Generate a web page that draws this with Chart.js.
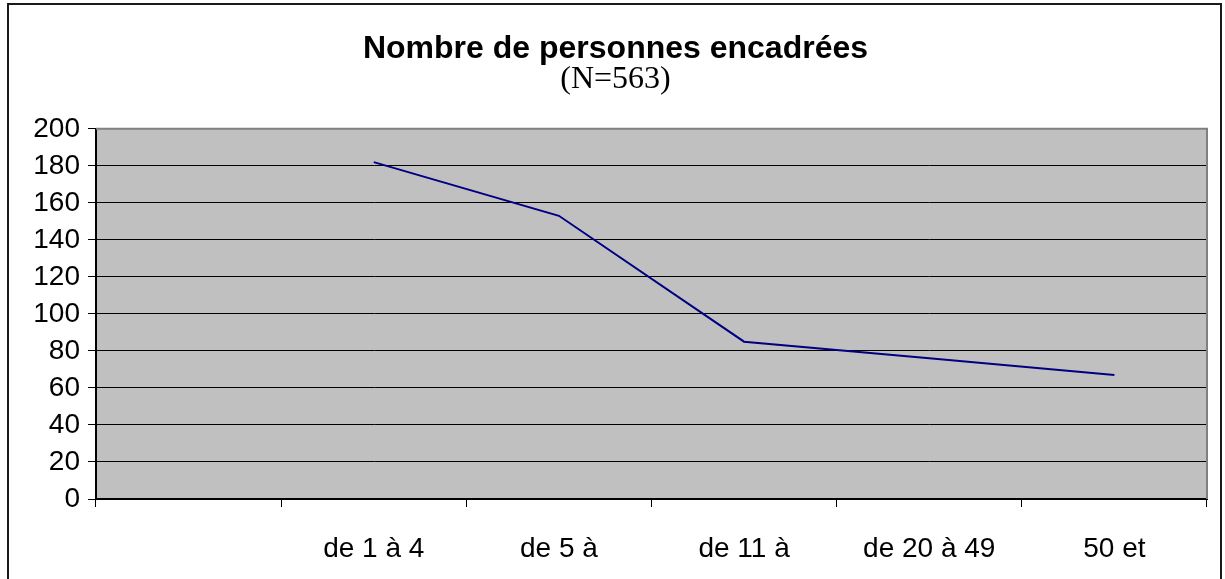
<!DOCTYPE html>
<html>
<head>
<meta charset="utf-8">
<title>Nombre de personnes encadrées</title>
<script src="https://cdn.jsdelivr.net/npm/chart.js@4/dist/chart.umd.min.js"></script>
<style>
	html, body { margin: 0; padding: 0; background: #fff; }
	#wrap { width: 1225px; height: 579px; }
</style>
</head>
<body>
<div id="wrap"><canvas id="encadres-chart" width="1225" height="579"></canvas></div>
<script>
// tranches d'effectif encadré (la première catégorie est vide)
const categories = ['', 'de 1 à 4', 'de 5 à', 'de 11 à', 'de 20 à 49', '50 et']
const personnes = [null, 182, 153, 85, 76, 67]
const yTicks = [0, 20, 40, 60, 80, 100, 120, 140, 160, 180, 200]

const sans = "'Liberation Sans', Arial, sans-serif"
const serif = "'Liberation Serif', 'Times New Roman', serif"

// fond gris de la zone de tracé + cadre extérieur
const plotFrame = {
	id: 'plotFrame',
	beforeDraw(chart) {
		const { ctx, chartArea: a } = chart
		ctx.save()
		ctx.fillStyle = '#c0c0c0'
		ctx.fillRect(a.left, a.top, a.right - a.left, a.bottom - a.top)
		ctx.restore()
	},
	afterDraw(chart) {
		const { ctx, chartArea: a } = chart
		ctx.save()
		ctx.strokeStyle = '#808080'
		ctx.lineWidth = 2
		ctx.beginPath()
		ctx.moveTo(a.left, a.top)
		ctx.lineTo(a.right, a.top)
		ctx.lineTo(a.right, a.bottom)
		ctx.stroke()
		ctx.strokeStyle = '#1a1a1a'
		ctx.lineWidth = 2
		ctx.strokeRect(8, 4, chart.width - 12, chart.height + 10)
		ctx.restore()
	},
}

const ctx = document.getElementById('encadres-chart').getContext('2d')
new Chart(ctx, {
	type: 'line',
	data: {
		labels: categories,
		datasets: [
			{
				label: 'Personnes encadrées',
				data: personnes,
				borderColor: '#000080',
				borderWidth: 2,
				pointRadius: 0,
				tension: 0,
				fill: false,
			},
		],
	},
	options: {
		responsive: false,
		animation: false,
		events: [],
		layout: { padding: { left: 24, right: 18, top: 0, bottom: 0 } },
		plugins: {
			legend: { display: false },
			tooltip: { enabled: false },
			title: {
				display: true,
				text: 'Nombre de personnes encadrées',
				color: '#000',
				font: { family: sans, size: 32, weight: 'bold', lineHeight: 1 },
				padding: { top: 33, bottom: 0 },
			},
			subtitle: {
				display: true,
				text: '(N=563)',
				color: '#000',
				font: { family: serif, size: 32, lineHeight: 0.9 },
				padding: { top: 0, bottom: 35 },
			},
		},
		scales: {
			x: {
				offset: true,
				grid: {
					offset: true,
					drawOnChartArea: false,
					color: '#000',
					tickLength: 8,
				},
				border: { color: '#000', width: 2 },
				ticks: {
					color: '#000',
					font: { family: sans, size: 28 },
					padding: 25,
					maxRotation: 0,
					autoSkip: false,
				},
				afterFit(scale) {
					scale.height = 80
				},
			},
			y: {
				min: 0,
				max: 200,
				afterBuildTicks(scale) {
					scale.ticks = yTicks.map(v => ({ value: v }))
				},
				grid: {
					color: '#000',
					lineWidth: 1,
					tickLength: 8,
				},
				border: { color: '#000', width: 2 },
				ticks: {
					color: '#000',
					font: { family: sans, size: 28 },
					padding: 8,
				},
				afterFit(scale) {
					scale.width = 72
				},
			},
		},
	},
	plugins: [plotFrame],
})
</script>
</body>
</html>
